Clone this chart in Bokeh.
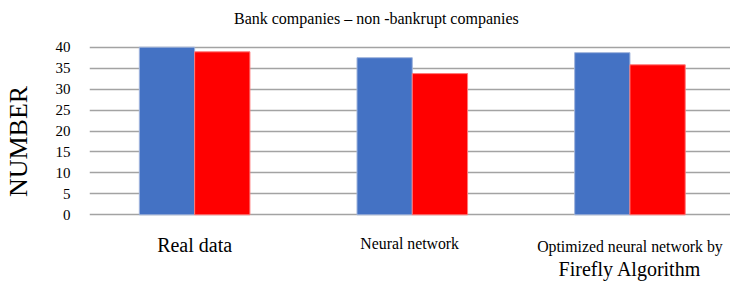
from bokeh.plotting import figure
from bokeh.models import ColumnDataSource, Range1d, FixedTicker
from bokeh.core.properties import value
from bokeh.transform import dodge
from bokeh.embed import file_html
from bokeh.resources import INLINE

# ---- data ----
title_text = "Bank companies \u2013 non -bankrupt companies"
categories = ["Real data", "Neural network", "Optimized neural network by Firefly Algorithm"]
blue_values = [40.0, 37.5, 38.7]
red_values = [38.9, 33.7, 35.8]
y_ticks = [0, 5, 10, 15, 20, 25, 30, 35, 40]
y_axis_title = "NUMBER"

FONT = "Liberation Serif"
BLUE = "#4472C4"
RED = "#FF0000"

idx = list(range(len(categories)))
src = ColumnDataSource(dict(x=idx, blue=blue_values, red=red_values))

p = figure(width=730, height=282, output_backend="svg", toolbar_location=None,
           x_range=Range1d(-0.483, 2.462), y_range=Range1d(-16.16, 51.15))
p.min_border_left = 87
p.min_border_right = 0
p.min_border_top = 0
p.min_border_bottom = 0
p.outline_line_color = None
p.background_fill_color = "white"
p.border_fill_color = "white"

bw = 0.254
p.vbar(x=dodge("x", -bw / 2, range=p.x_range), top="blue", width=bw, bottom=0, source=src,
       fill_color=BLUE, line_color="#9fb4dc", line_width=1)
p.vbar(x=dodge("x", bw / 2, range=p.x_range), top="red", width=bw, bottom=0, source=src,
       fill_color=RED, line_color="#ff7a7a", line_width=1)

# axes
p.xaxis.visible = False
p.xgrid.visible = False
p.yaxis.ticker = FixedTicker(ticks=y_ticks)
p.yaxis.axis_line_color = None
p.yaxis.major_tick_line_color = None
p.yaxis.minor_tick_line_color = None
p.yaxis.major_label_text_font = FONT
p.yaxis.major_label_text_font_size = "15px"
p.yaxis.major_label_text_color = "#000000"
p.yaxis.major_label_standoff = 13
p.yaxis.axis_label = y_axis_title
p.yaxis.axis_label_text_font = FONT
p.yaxis.axis_label_text_font_size = "26px"
p.yaxis.axis_label_text_font_style = "normal"
p.yaxis.axis_label_text_color = "#000000"
p.yaxis.axis_label_standoff = 20
p.ygrid.ticker = FixedTicker(ticks=y_ticks)
p.ygrid.grid_line_color = "#a3a3a3"
p.ygrid.grid_line_width = 1.6

# title (inside frame area which spans the whole canvas height)
p.text(x=[0.835], y=[46.94], text=[title_text], text_font=value(FONT), text_font_size="16px",
       text_align="center", text_baseline="alphabetic", text_color="#000000")

# category labels
line1, line2 = "Optimized neural network by", "Firefly Algorithm"
p.text(x=[idx[0]], y=[-7.16], text=[categories[0]], text_font=value(FONT), text_font_size="20px",
       text_align="center", text_baseline="alphabetic", text_color="#000000")
p.text(x=[idx[1] - 0.012, idx[2]], y=[-6.9, -7.49], text=[categories[1], line1],
       text_font=value(FONT), text_font_size="15.8px",
       text_align="center", text_baseline="alphabetic", text_color="#000000")
p.text(x=[idx[2]], y=[-12.9], text=[line2], text_font=value(FONT), text_font_size="20px",
       text_align="center", text_baseline="alphabetic", text_color="#000000")

open("out.html", "w").write(file_html(p, INLINE))
